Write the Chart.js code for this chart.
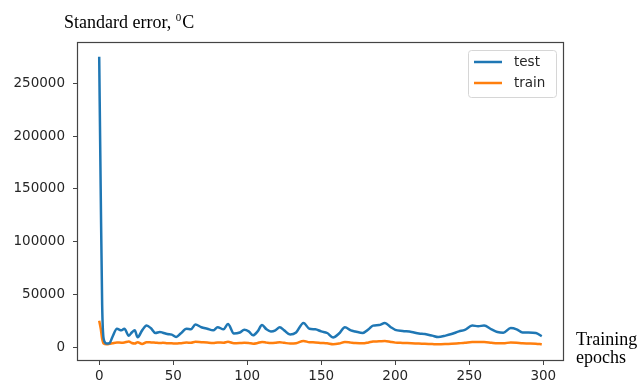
<!DOCTYPE html>
<html>
<head>
<meta charset="utf-8">
<script src="https://cdn.jsdelivr.net/npm/chart.js@4.4.0/dist/chart.umd.min.js"></script>
<style>
    html, body { margin: 0; padding: 0; background: #fff; }
    #wrap { width: 640px; height: 385px; }
</style>
</head>
<body>
<div id="wrap"><canvas id="myChart" width="640" height="385"></canvas></div>
<script>
// epochs (not evenly spaced)
const epochs = [0, 1, 2, 3, 5, 7, 9, 12, 15, 17, 20, 22, 24, 26, 29, 32, 35, 38, 41, 43, 46, 49, 52, 55, 59, 62, 65, 69, 73, 77, 80, 84, 87, 91, 95, 98, 101, 104, 107, 110, 113, 116, 119, 122, 125, 129, 133, 138, 142, 146, 150, 154, 158, 162, 166, 170, 173, 178, 182, 185, 189, 193, 197, 200, 205, 211, 216, 220, 225, 229, 234, 238, 243, 247, 252, 256, 260, 265, 269, 273, 278, 282, 286, 290, 295, 299];

const testValues = [275000, 150000, 40000, 8000, 3500, 4000, 10000, 17500, 16000, 17500, 11000, 14000, 16000, 9500, 16000, 20500, 18000, 13500, 14500, 13800, 12500, 12000, 9800, 13000, 17500, 17000, 21500, 19000, 17500, 16000, 19000, 17000, 22000, 13000, 14000, 16500, 15000, 11300, 15000, 21000, 17000, 15000, 16000, 19000, 16000, 12000, 14000, 23000, 17500, 17000, 15000, 13500, 9300, 13000, 19000, 16000, 15000, 13500, 17000, 20500, 21000, 23000, 19000, 16500, 15500, 14500, 13000, 12500, 11000, 9700, 11000, 12500, 15000, 16500, 20500, 20000, 20500, 17000, 14500, 13800, 18200, 17000, 14000, 14000, 13500, 10500];

const trainValues = [25000, 18000, 8000, 3500, 2800, 3200, 3800, 4500, 4300, 4500, 5500, 4000, 3500, 4800, 3000, 4800, 4600, 4300, 4000, 4200, 3800, 3700, 3500, 3900, 4400, 4300, 5200, 4800, 4400, 4100, 4600, 4300, 5200, 3800, 4000, 4300, 4100, 3400, 4000, 5000, 4400, 4000, 4200, 4700, 4200, 3500, 3900, 6000, 4800, 4600, 4100, 3700, 2800, 3500, 5000, 4400, 4000, 3700, 4600, 5400, 5600, 6000, 5000, 4400, 4100, 3800, 3500, 3300, 3000, 2800, 3000, 3300, 3800, 4200, 5000, 4900, 5000, 4300, 3800, 3700, 4600, 4300, 3700, 3600, 3400, 2800];

const seriesNames = ['test', 'train'];
const seriesColors = ['#1f77b4', '#ff7f0e'];
const xTicks = [0, 50, 100, 150, 200, 250, 300];
const yTicks = [0, 50000, 100000, 150000, 200000, 250000];

function toPoints(vals) {
    return epochs.map(function (e, i) { return { x: e, y: vals[i] }; });
}

// frame, legend and the two serif captions
const decorPlugin = {
    id: 'decor',
    afterDraw: function (chart) {
        const ctx = chart.ctx;
        const a = chart.chartArea;
        ctx.save();
        ctx.strokeStyle = '#444';
        ctx.lineWidth = 1.2;
        ctx.strokeRect(a.left + 0.5, a.top + 0.5, a.right - a.left - 1, a.bottom - a.top - 1);

        // legend box
        const lx = a.right - 96, ly = a.top + 8, lw = 88, lh = 47;
        ctx.fillStyle = 'rgba(255,255,255,0.8)';
        ctx.strokeStyle = '#d6d6d6';
        ctx.lineWidth = 1;
        ctx.beginPath();
        ctx.roundRect(lx + 0.5, ly + 0.5, lw, lh, 3);
        ctx.fill();
        ctx.stroke();
        ctx.font = '13.5px "DejaVu Sans"';
        ctx.textBaseline = 'middle';
        chart.data.datasets.forEach(function (ds, i) {
            const yy = ly + 12 + i * 21;
            ctx.strokeStyle = ds.borderColor;
            ctx.lineWidth = 2.5;
            ctx.beginPath();
            ctx.moveTo(lx + 6, yy);
            ctx.lineTo(lx + 34, yy);
            ctx.stroke();
            ctx.fillStyle = '#262626';
            ctx.fillText(ds.label, lx + 46, yy);
        });

        // captions
        ctx.fillStyle = '#000';
        ctx.textBaseline = 'alphabetic';
        ctx.font = '18px "Liberation Serif"';
        const t1 = 'Standard error, ';
        ctx.fillText(t1, 64, 28);
        let w = ctx.measureText(t1).width;
        ctx.font = '11px "Liberation Serif"';
        ctx.fillText('0', 64 + w, 21);
        w += ctx.measureText('0').width + 1;
        ctx.font = '18px "Liberation Serif"';
        ctx.fillText('C', 64 + w, 28);
        ctx.fillText('Training', 576, 345);
        ctx.fillText('epochs', 576, 363);
        ctx.restore();
    }
};

const ctx = document.getElementById('myChart');

new Chart(ctx, {
    type: 'line',
    data: {
        datasets: seriesNames.map(function (name, i) {
            return {
                label: name,
                data: toPoints(i === 0 ? testValues : trainValues),
                borderColor: seriesColors[i],
                backgroundColor: seriesColors[i],
                borderWidth: 2.5,
                pointRadius: 0,
                cubicInterpolationMode: 'monotone',
                fill: false
            };
        })
    },
    options: {
        responsive: false,
        animation: false,
        layout: { padding: { top: 42, right: 76, left: 0, bottom: 0 } },
        plugins: {
            legend: { display: false },
            tooltip: { enabled: false }
        },
        scales: {
            x: {
                type: 'linear',
                min: -15,
                max: 314,
                afterBuildTicks: function (scale) {
                    scale.ticks = xTicks.map(function (v) { return { value: v }; });
                },
                afterFit: function (scale) { scale.height = 24; },
                grid: { drawOnChartArea: false, drawTicks: true, tickLength: 4, color: '#444' },
                border: { display: false },
                ticks: {
                    color: '#262626',
                    padding: 3,
                    maxRotation: 0,
                    font: { family: 'DejaVu Sans', size: 13.5 }
                }
            },
            y: {
                min: -13000,
                max: 289000,
                afterBuildTicks: function (scale) {
                    scale.ticks = yTicks.map(function (v) { return { value: v }; });
                },
                afterFit: function (scale) { scale.width = 77; },
                grid: { drawOnChartArea: false, drawTicks: true, tickLength: 4, color: '#444' },
                border: { display: false },
                ticks: {
                    color: '#262626',
                    padding: 8,
                    callback: function (v) { return String(v); },
                    font: { family: 'DejaVu Sans', size: 13.5 }
                }
            }
        }
    },
    plugins: [decorPlugin]
});
</script>
</body>
</html>
